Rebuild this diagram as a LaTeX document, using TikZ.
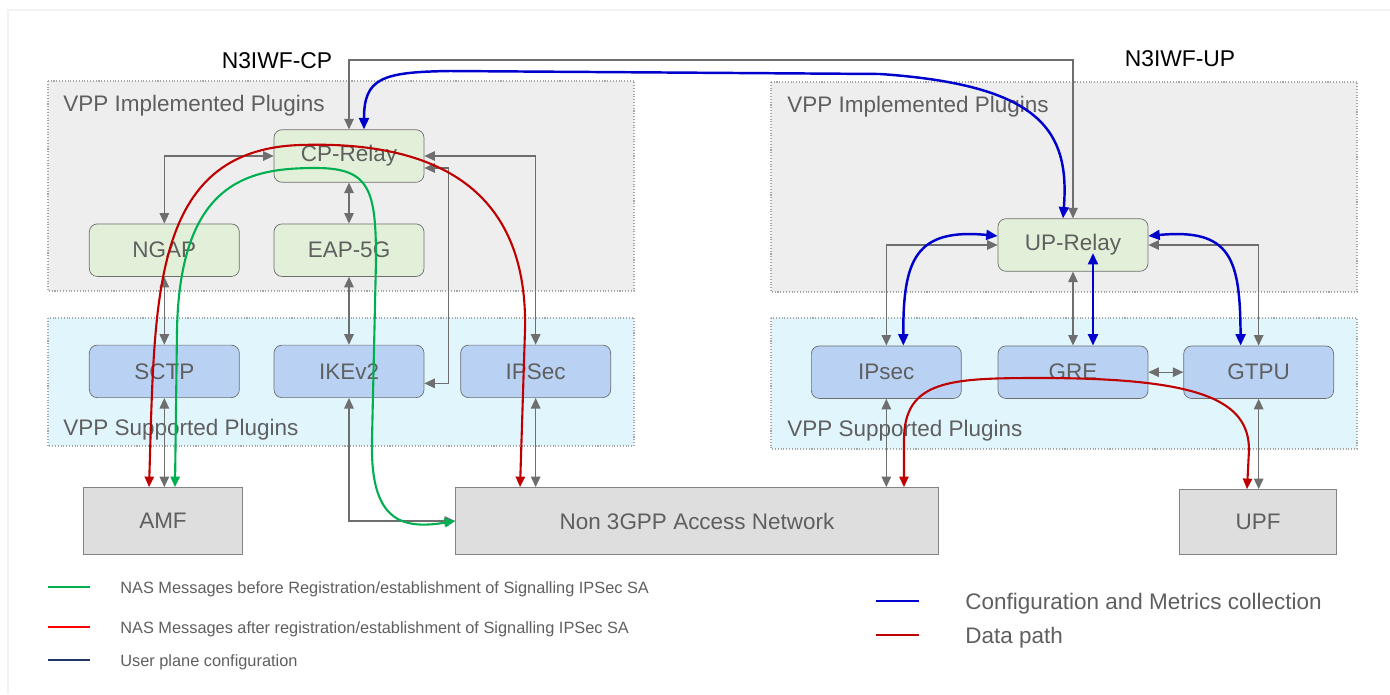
\documentclass[tikz,border=0pt]{standalone}
\usepackage{fontspec}
\setmainfont{Liberation Sans}
\usetikzlibrary{arrows.meta,positioning}
\definecolor{relayfill}{HTML}{E2F0D9}
\definecolor{pluginfill}{HTML}{B9D2F4}
\definecolor{extfill}{HTML}{DEDEDE}
\definecolor{implfill}{HTML}{EEEEEE}
\definecolor{suppfill}{HTML}{E1F5FD}
\definecolor{linegray}{HTML}{6E6E6E}
\definecolor{txtgray}{HTML}{5F5F5F}
\definecolor{cfgblue}{HTML}{0000CC}
\definecolor{datared}{HTML}{C00000}
\definecolor{nasgreen}{HTML}{00B050}
\definecolor{legred}{HTML}{FF0000}
\definecolor{legnavy}{HTML}{1F3864}
\tikzset{
  relaybox/.style={draw=linegray, fill=relayfill, rounded corners=4.5pt, minimum width=3cm, minimum height=1.05cm, text=txtgray, font=\fontsize{12.8}{15}\selectfont},
  pluginbox/.style={relaybox, fill=pluginfill},
  extbox/.style={draw=linegray!85, fill=extfill, minimum height=1.34cm, text=txtgray, font=\fontsize{12.8}{15}\selectfont},
  panel/.style={draw=gray!70, densely dotted, line width=0.6pt},
  panellabel/.style={anchor=west, inner sep=0pt, text=txtgray, font=\fontsize{12.8}{15}\selectfont},
  netlabel/.style={inner sep=0pt, font=\fontsize{13}{15}\selectfont},
  conn/.style={{Triangle[length=6pt,width=5.4pt]}-{Triangle[length=6pt,width=5.4pt]}, draw=linegray, line width=0.75pt},
  cfg/.style={{Triangle[length=6.5pt,width=5.6pt]}-{Triangle[length=6.5pt,width=5.6pt]}, draw=cfgblue, line width=1.4pt},
  nasbefore/.style={{Triangle[length=6pt,width=5.2pt]}-{Triangle[length=6pt,width=5.2pt]}, draw=nasgreen, line width=1.2pt},
  nasafter/.style={{Triangle[length=6pt,width=5.2pt]}-{Triangle[length=6pt,width=5.2pt]}, draw=datared, line width=1.2pt},
  legline/.style={line width=1.3pt},
  legtext/.style={anchor=west, inner sep=0pt, text=txtgray, font=\fontsize{9.3}{11}\selectfont},
  legbig/.style={legtext, font=\fontsize{12.8}{15}\selectfont}
}
\begin{document}
\begin{tikzpicture}[x=0.02cm, y=-0.02cm]
\useasboundingbox (0,0) rectangle (1390,694);
\draw[gray!10, line width=1pt] (8,694) -- (8,10) -- (1390,10);

\draw[panel, fill=implfill] (48,81) rectangle (634,291);
\draw[panel, fill=suppfill] (48,318) rectangle (634,446);
\draw[panel, fill=implfill] (771,82) rectangle (1357,292);
\draw[panel, fill=suppfill] (771,318) rectangle (1357,449);

\node[panellabel] (cpimpl) at (63,106) {VPP Implemented Plugins};
\node[panellabel] (cpsupp) at (63,430) {VPP Supported Plugins};
\node[panellabel] (upimpl) at (787,107) {VPP Implemented Plugins};
\node[panellabel] (upsupp) at (787,431) {VPP Supported Plugins};
\node[netlabel] (cptitle) at (277,61) {N3IWF-CP};
\node[netlabel] (uptitle) at (1180,59) {N3IWF-UP};

\node[relaybox] (cpr) at (349,156) {CP-Relay};
\node[relaybox, below=0.82cm of cpr] (eap) {EAP-5G};
\node[relaybox, left=0.68cm of eap] (ngap) {NGAP};
\node[pluginbox, below=1.36cm of eap] (ikev2) {IKEv2};
\node[pluginbox, left=0.68cm of ikev2] (sctp) {SCTP};
\node[pluginbox, right=0.72cm of ikev2] (ipsec) {IPSec};
\node[extbox, minimum width=3.18cm] (amf) at (163,521) {AMF};
\node[extbox, minimum width=9.66cm] (nongpp) at (697,521) {Non 3GPP Access Network};

\node[relaybox] (upr) at (1073,245) {UP-Relay};
\node[pluginbox, below=1.48cm of upr] (gre) {GRE};
\node[pluginbox, left=0.72cm of gre] (upipsec) {IPsec};
\node[pluginbox, right=0.7cm of gre] (gtpu) {GTPU};
\node[extbox, minimum width=3.14cm, minimum height=1.3cm] (upf) at (1258,522) {UPF};

\coordinate (topbar) at (0,60);
\draw[conn] (cpr.north) -- (cpr.north |- topbar) -| (upr.north);
\draw[conn] (cpr.west) -| (ngap.north);
\draw[conn] (cpr.south) -- (eap.north);
\draw[conn] (eap.south) -- (ikev2.north);
\draw[conn] (ngap.south) -- (sctp.north);
\draw[conn] (sctp.south) -- (sctp.south |- amf.north);
\draw[conn] (cpr.east) -| (ipsec.north);
\draw[conn] ([yshift=-0.24cm]cpr.east) -- ++(24,0) |- ([yshift=-0.24cm]ikev2.east);
\draw[conn] (ipsec.south) -- (ipsec.south |- nongpp.north);
\draw[conn] (ikev2.south) |- (nongpp.west);
\draw[conn] (upr.west) -| (upipsec.north);
\draw[conn] (upr.south) -- (gre.north);
\draw[conn] (upr.east) -| (gtpu.north);
\draw[conn] (gre.east) -- (gtpu.west);
\draw[conn] (upipsec.south) -- (upipsec.south |- nongpp.north);
\draw[conn] (gtpu.south) -- (gtpu.south |- upf.north);

\draw[cfg] ([xshift=0.3cm]cpr.north) .. controls (364,78) and (382,72) .. (450,71) -- (880,74) .. controls (1040,85) and (1070,130) .. ([xshift=-0.2cm]upr.north);
\draw[cfg] ([yshift=0.18cm]upr.west) .. controls (915,228) and (903,260) .. ([xshift=0.34cm]upipsec.north);
\draw[cfg] ([yshift=0.18cm]upr.east) .. controls (1232,228) and (1240,260) .. ([xshift=-0.36cm]gtpu.north);
\draw[cfg] ([xshift=0.4cm]gre.north) -- ([xshift=0.4cm,yshift=-0.16cm]upr.center);

\draw[nasafter] ([xshift=-0.28cm]amf.north) .. controls (155,300) and (150,150) .. (300,145) .. controls (450,140) and (528,200) .. (525,330) -- ([xshift=-3.54cm]nongpp.north);
\draw[nasbefore] ([xshift=0.24cm]amf.north) -- (177,330) .. controls (180,180) and (250,168) .. (316,168) .. controls (370,168) and (376,190) .. (376,260) -- (372,440) .. controls (370,520) and (400,530) .. (nongpp.west);
\draw[nasafter] ([xshift=4.14cm]nongpp.north) -- (904,440) .. controls (904,380) and (950,378) .. (1040,378) .. controls (1200,378) and (1249,400) .. (1249,450) -- ([xshift=-0.22cm]upf.north);

\draw[legline, nasgreen] (48,587) -- (90,587);
\node[legtext] (lgbefore) at (120,589) {NAS Messages before Registration/establishment of Signalling IPSec SA};
\draw[legline, legred] (48,627) -- (90,627);
\node[legtext] (lgafter) at (120,629) {NAS Messages after registration/establishment of Signalling IPSec SA};
\draw[legline, legnavy] (48,660) -- (90,660);
\node[legtext] (lgup) at (120,662) {User plane configuration};
\draw[legline, cfgblue] (876,601) -- (919,601);
\node[legbig] (lgcfg) at (965,604) {Configuration and Metrics collection};
\draw[legline, datared] (876,635) -- (919,635);
\node[legbig] (lgdata) at (965,638) {Data path};
\end{tikzpicture}
\end{document}
